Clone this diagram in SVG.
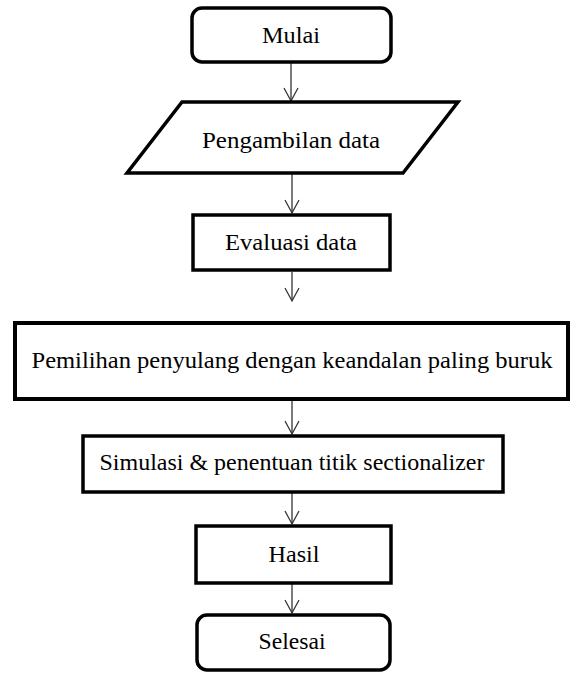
<svg xmlns="http://www.w3.org/2000/svg" width="572" height="673" viewBox="0 0 572 673">
<style>
.box{fill:#fff;stroke:#000;stroke-width:3.5}
.big{fill:#fff;stroke:#000;stroke-width:4}
.lbl{font-family:"Liberation Serif","Times New Roman",serif;font-size:23.5px;fill:#000;text-anchor:middle}
.con{fill:none;stroke:#333;stroke-width:1.3}
</style>
<g id="connectors">
<line class="con" x1="291" y1="63" x2="291" y2="101"/>
<line class="con" x1="292" y1="174" x2="292" y2="213"/>
<line class="con" x1="292" y1="272" x2="292" y2="301"/>
<line class="con" x1="292" y1="401" x2="292" y2="434"/>
<line class="con" x1="292" y1="493" x2="292" y2="524"/>
<line class="con" x1="292" y1="584" x2="292" y2="613"/>
<path class="con" d="M284,88 L291,101 L298,88"/>
<path class="con" d="M285,200 L292,213 L299,200"/>
<path class="con" d="M285,288 L292,301 L299,288"/>
<path class="con" d="M285,421 L292,434 L299,421"/>
<path class="con" d="M285,511 L292,524 L299,511"/>
<path class="con" d="M285,600 L292,613 L299,600"/>
</g>
<g id="mulai">
<rect class="box" x="192" y="8" width="199" height="54" rx="10"/>
<text class="lbl" x="291" y="43" textLength="58" lengthAdjust="spacingAndGlyphs">Mulai</text>
</g>
<g id="pengambilan">
<polygon class="box" points="182,102 458,102 403,173 127,173"/>
<text class="lbl" x="291" y="148" textLength="178" lengthAdjust="spacingAndGlyphs">Pengambilan data</text>
</g>
<g id="evaluasi">
<rect class="box" x="193" y="215" width="197" height="55"/>
<text class="lbl" x="291" y="250" textLength="132" lengthAdjust="spacingAndGlyphs">Evaluasi data</text>
</g>
<g id="pemilihan">
<rect class="big" x="15" y="323" width="553" height="76"/>
<text class="lbl" x="292" y="368" textLength="521" lengthAdjust="spacingAndGlyphs">Pemilihan penyulang dengan keandalan paling buruk</text>
</g>
<g id="simulasi">
<rect class="box" x="83" y="436" width="420" height="56"/>
<text class="lbl" x="292" y="470" textLength="385" lengthAdjust="spacingAndGlyphs">Simulasi &amp; penentuan titik sectionalizer</text>
</g>
<g id="hasil">
<rect class="box" x="196" y="526" width="195" height="57"/>
<text class="lbl" x="294" y="562" textLength="51" lengthAdjust="spacingAndGlyphs">Hasil</text>
</g>
<g id="selesai">
<rect class="box" x="197" y="615" width="193" height="55" rx="10"/>
<text class="lbl" x="292" y="649" textLength="67" lengthAdjust="spacingAndGlyphs">Selesai</text>
</g>
</svg>
